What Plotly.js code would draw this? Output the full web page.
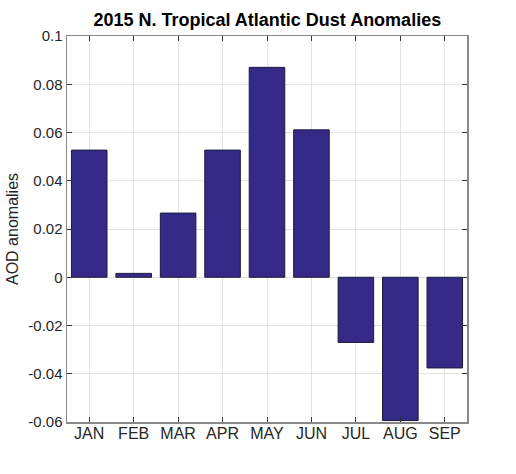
<!DOCTYPE html>
<html>
<head>
<meta charset="utf-8">
<script src="https://cdn.plot.ly/plotly-3.0.1.min.js"></script>
<style>
html,body{margin:0;padding:0;background:#fff;}
#chart{width:516px;height:474px;}
</style>
</head>
<body>
<div id="chart"></div>
<script>
const months = ["JAN","FEB","MAR","APR","MAY","JUN","JUL","AUG","SEP"];
const positions = [1,2,3,4,5,6,7,8,9];
const anomalies = [0.0527, 0.0016, 0.0266, 0.0527, 0.0870, 0.0611, -0.0270, -0.0594, -0.0376];
const yTicks = [-0.06,-0.04,-0.02,0,0.02,0.04,0.06,0.08,0.1];
const yTickText = ["-0.06","-0.04","-0.02","0","0.02","0.04","0.06","0.08","0.1"];

const font = "Liberation Sans, Arial, Helvetica, sans-serif";

Plotly.newPlot("chart", [{
  type: "bar",
  x: positions,
  y: anomalies,
  width: 0.8,
  marker: {color: "#352a87", line: {color: "#1a1a3a", width: 1}},
  hoverinfo: "none"
}], {
  width: 516, height: 474,
  margin: {l: 67, r: 49, t: 36, b: 52},
  paper_bgcolor: "#fff",
  plot_bgcolor: "#fff",
  showlegend: false,
  title: {text: "<b>2015 N. Tropical Atlantic Dust Anomalies</b>", font: {family: font, size: 18, color: "#000"}, x: 0.518, xanchor: "center", y: 0.958, yanchor: "middle"},
  xaxis: {
    range: [0.5, 9.5],
    tickvals: positions, ticktext: months,
    tickfont: {family: font, size: 16, color: "#262626"},
    ticklabelstandoff: -4,
    showgrid: true, gridcolor: "#e3e3e3", gridwidth: 1,
    showline: true, linecolor: "#888", linewidth: 1.5, mirror: "ticks",
    ticks: "inside", ticklen: 5, tickcolor: "#333", tickwidth: 1,
    zeroline: false, fixedrange: true
  },
  yaxis: {
    range: [-0.06, 0.1],
    tickvals: yTicks, ticktext: yTickText,
    tickfont: {family: font, size: 15, color: "#262626"},
    title: {text: "AOD anomalies", font: {family: font, size: 16, color: "#262626"}, standoff: 5},
    automargin: true,
    showgrid: true, gridcolor: "#e3e3e3", gridwidth: 1,
    showline: true, linecolor: "#888", linewidth: 1.5, mirror: "ticks",
    ticks: "inside", ticklen: 5, tickcolor: "#333", tickwidth: 1,
    zeroline: false, fixedrange: true
  }
}, {staticPlot: true});
</script>
</body>
</html>
